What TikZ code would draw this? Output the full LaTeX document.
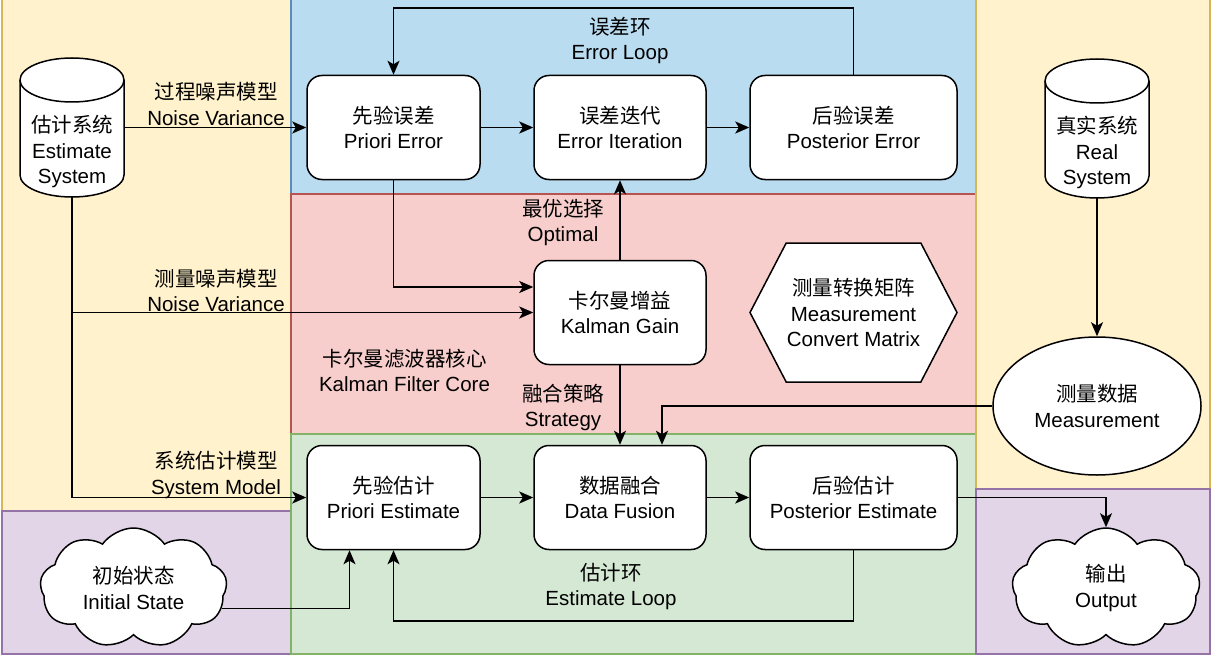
\documentclass[tikz,border=0pt]{standalone}
\usepackage{fontspec}
\setmainfont{Liberation Sans}
\newfontfamily\cjk{Noto Sans CJK SC}
\usetikzlibrary{shapes.geometric}
\usetikzlibrary{shapes.symbols}
\usetikzlibrary{arrows.meta}

\definecolor{yellowfill}{HTML}{FFF2CC}
\definecolor{yellowline}{HTML}{D6B656}
\definecolor{purplefill}{HTML}{E1D5E7}
\definecolor{purpleline}{HTML}{9673A6}
\definecolor{bluefill}{HTML}{B9DCF0}
\definecolor{blueline}{HTML}{5A8CB8}
\definecolor{redfill}{HTML}{F8CECC}
\definecolor{redline}{HTML}{B85450}
\definecolor{greenfill}{HTML}{D5E8D4}
\definecolor{greenline}{HTML}{82B366}

\begin{document}
\begin{tikzpicture}[every node/.style={inner sep=0pt, align=center, font=\fontsize{20.5}{25.5}\selectfont},
	box/.style={rectangle, rounded corners=15pt, draw, fill=white, line width=1.5pt, minimum height=104pt},
	drum/.style={rectangle, minimum width=104pt, minimum height=139pt, text height=112pt, text depth=0pt},
	puff/.style={cloud, cloud puffs=9, cloud puff arc=110, cloud ignores aspect, draw, fill=white,
		line width=1.5pt, minimum width=187pt, minimum height=120pt},
	region/.style={line width=2pt},
	flow/.style={draw, line width=1.6pt, -{Stealth[length=14pt,width=12pt,inset=3.5pt]}},
	every edge/.style={flow}
]
\useasboundingbox (0pt,0pt) rectangle (1212pt,-658pt);
% background areas
\filldraw[region, fill=yellowfill, draw=yellowline] (2pt,2pt) rectangle (291pt,-511pt);
\filldraw[region, fill=purplefill, draw=purpleline] (2pt,-511pt) rectangle (291pt,-654pt);
\filldraw[region, fill=bluefill, draw=blueline] (291pt,2pt) rectangle (976pt,-194pt);
\filldraw[region, fill=redfill, draw=redline] (291pt,-194pt) rectangle (976pt,-434pt);
\filldraw[region, fill=greenfill, draw=greenline] (291pt,-434pt) rectangle (976pt,-654pt);
\filldraw[region, fill=yellowfill, draw=yellowline] (976pt,2pt) rectangle (1210pt,-489pt);
\filldraw[region, fill=purplefill, draw=purpleline] (976pt,-489pt) rectangle (1210pt,-654pt);

% cylinder outlines for the two systems
\foreach \cx/\cy in {72/127.5, 1097/128.5} {
	\filldraw[line width=1.5pt, fill=white] (\cx pt-52pt, -\cy pt+47.5pt) -- (\cx pt-52pt, -\cy pt-47.5pt)
		arc[start angle=180, end angle=360, x radius=52pt, y radius=22pt] -- (\cx pt+52pt, -\cy pt+47.5pt)
		arc[start angle=0, end angle=180, x radius=52pt, y radius=22pt] -- cycle;
	\draw[line width=1.5pt] (\cx pt-52pt, -\cy pt+47.5pt) arc[start angle=180, end angle=360, x radius=52pt, y radius=22pt];
}
\node (esys) [drum] at (72pt, -127.5pt) {{\cjk 估计系统}\\Estimate\\System};
\node (rsys) [drum] at (1097pt, -128.5pt) {{\cjk 真实系统}\\Real\\System};
\node (priorerr) [box, minimum width=173pt] at (393.5pt, -127.5pt) {{\cjk 先验误差}\\Priori Error};
\node (erriter) [box, minimum width=172pt] at (620pt, -127.5pt) {{\cjk 误差迭代}\\Error Iteration};
\node (posterr) [box, minimum width=207pt] at (853.5pt, -127.5pt) {{\cjk 后验误差}\\Posterior Error};
\node (kgain) [box, minimum width=172pt] at (620pt, -312.5pt) {{\cjk 卡尔曼增益}\\Kalman Gain};
\node (convmat) [signal, signal to=east and west, signal pointer angle=125, draw, fill=white, line width=1.5pt,
	minimum width=207pt, minimum height=139pt] at (853.5pt, -312.5pt) {{\cjk 测量转换矩阵}\\Measurement\\Convert Matrix};
\node (meas) [ellipse, draw, fill=white, line width=1.5pt, minimum width=208pt, minimum height=138pt]
	at (1097pt, -406pt) {{\cjk 测量数据}\\Measurement};
\node (priorest) [box, minimum width=173pt] at (393.5pt, -497.5pt) {{\cjk 先验估计}\\Priori Estimate};
\node (datafus) [box, minimum width=172pt] at (620pt, -497.5pt) {{\cjk 数据融合}\\Data Fusion};
\node (postest) [box, minimum width=207pt] at (853.5pt, -497.5pt) {{\cjk 后验估计}\\Posterior Estimate};
\node (init) [puff] at (133.5pt, -588pt) {{\cjk 初始状态}\\Initial State};
\node (output) [puff, minimum width=188pt] at (1106pt, -588pt) {{\cjk 输出}\\Output};

\node (lblprocess) at (216pt, -104pt) {{\cjk 过程噪声模型}\\Noise Variance};
\node (lblmeasnoise) at (216pt, -290.5pt) {{\cjk 测量噪声模型}\\Noise Variance};
\node (lblsysmodel) at (216pt, -475pt) {{\cjk 系统估计模型}\\System Model};
\node (lblerrloop) at (620pt, -40.5pt) {{\cjk 误差环}\\Error Loop};
\node (lbloptimal) at (563pt, -222.5pt) {{\cjk 最优选择}\\Optimal};
\node (lblcore) at (404.5pt, -370.5pt) {{\cjk 卡尔曼滤波器核心}\\Kalman Filter Core};
\node (lblstrategy) at (563pt, -407.5pt) {{\cjk 融合策略}\\Strategy};
\node (lblestloop) at (611pt, -586.5pt) {{\cjk 估计环}\\Estimate Loop};

\coordinate (errtop) at (620pt, -8pt);
\coordinate (estbot) at (620pt, -621pt);

\path
(esys) edge (priorerr)
(priorerr) edge (erriter)
(erriter) edge (posterr)
(kgain) edge (erriter)
(kgain) edge (datafus)
(priorest) edge (datafus)
(datafus) edge (postest)
(rsys) edge (meas);
\draw[flow] (posterr.north) |- (errtop) -| (priorerr.north);
\draw[flow] (priorerr.south) |- ([yshift=25.5pt]kgain.west);
\draw[flow] (esys.south |- kgain.west) -- (kgain.west);
\draw[flow] (esys.south) |- (priorest.west);
\draw[flow] (meas.west) -| ([xshift=42pt]datafus.north);
\draw[flow] (postest.south) |- (estbot) -| (priorest.south);
\draw[flow] (init.-13) -| ([xshift=-44pt]priorest.south);
\draw[flow] (postest.east) -| (output.north);
\end{tikzpicture}
\end{document}
